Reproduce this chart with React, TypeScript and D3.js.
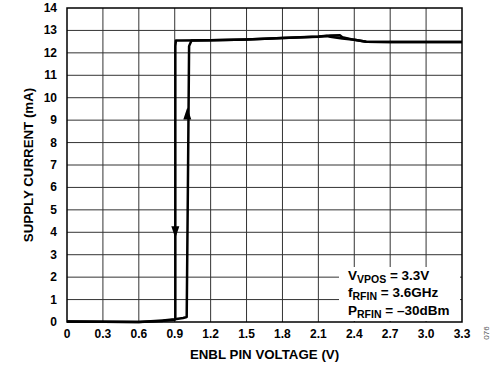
import * as d3 from "d3";

// rising sweep of ENBL (V) vs supply current (mA)
const upVolts = [0, 0.3, 0.6, 0.7, 0.8, 0.9, 0.97, 1.0, 1.01, 1.02, 1.04, 1.2, 1.5, 1.8, 2.1, 2.2, 2.28, 2.3, 2.4, 2.5, 2.7, 3.0, 3.3];
const upCurrent = [0.02, 0.01, 0.0, 0.03, 0.07, 0.12, 0.18, 0.22, 6.0, 12.3, 12.55, 12.56, 12.6, 12.66, 12.73, 12.77, 12.78, 12.7, 12.58, 12.5, 12.48, 12.48, 12.48];

// falling sweep
const downVolts = [3.3, 3.0, 2.7, 2.5, 2.4, 2.3, 2.2, 2.17, 2.1, 1.8, 1.5, 1.2, 0.95, 0.91, 0.905, 0.905, 0.9, 0.8, 0.6, 0.3, 0];
const downCurrent = [12.48, 12.48, 12.48, 12.5, 12.58, 12.64, 12.72, 12.75, 12.72, 12.66, 12.6, 12.56, 12.55, 12.55, 12.3, 0.15, 0.1, 0.05, 0.0, 0.01, 0.02];

const xTicks = [0, 0.3, 0.6, 0.9, 1.2, 1.5, 1.8, 2.1, 2.4, 2.7, 3.0, 3.3];
const yTicks = d3.range(0, 15);

const W = 494;
const H = 371;
const left = 67;
const right = 462;
const top = 8;
const bottom = 322;

const App = () => {
  const x = d3.scaleLinear().domain([0, 3.3]).range([left, right]);
  const y = d3.scaleLinear().domain([0, 14]).range([bottom, top]);

  const line = d3
    .line<[number, number]>()
    .x((d) => x(d[0]))
    .y((d) => y(d[1]));

  const upPts = upVolts.map((v, i) => [v, upCurrent[i]] as [number, number]);
  const downPts = downVolts.map((v, i) => [v, downCurrent[i]] as [number, number]);

  const font = "Arial, 'Liberation Sans', sans-serif";

  // arrow heads
  const upArrowX = x(1.005);
  const upArrowY = y(9.3);
  const downArrowX = x(0.905);
  const downArrowY = y(4.0);

  return (
    <svg
      width={W}
      height={H}
      viewBox={`0 0 ${W} ${H}`}
      style={{ position: "absolute", left: 0, top: 0, background: "#fff" }}
      fontFamily={font}
      fontWeight="bold"
    >
      <g stroke="#333" strokeWidth={1}>
        {xTicks.slice(1, -1).map((t) => (
          <line key={"gx" + t} x1={x(t)} x2={x(t)} y1={top} y2={bottom} />
        ))}
        {yTicks.slice(1, -1).map((t) => (
          <line key={"gy" + t} x1={left} x2={right} y1={y(t)} y2={y(t)} />
        ))}
      </g>
      <rect x={left} y={top} width={right - left} height={bottom - top} fill="none" stroke="#000" strokeWidth={1.5} />

      <rect x={339} y={267} width={121} height={54} fill="#fff" />
      <g fontSize={13.5} fill="#000">
        <text x={348} y={280}>
          V<tspan fontSize={10.5} dy={3}>VPOS</tspan>
          <tspan dy={-3}> = 3.3V</tspan>
        </text>
        <text x={348} y={297}>
          f<tspan fontSize={10.5} dy={3}>RFIN</tspan>
          <tspan dy={-3}> = 3.6GHz</tspan>
        </text>
        <text x={348} y={315}>
          P<tspan fontSize={10.5} dy={3}>RFIN</tspan>
          <tspan dy={-3}> = –30dBm</tspan>
        </text>
      </g>

      <path d={line(upPts) ?? ""} fill="none" stroke="#000" strokeWidth={2.5} strokeLinejoin="round" />
      <path d={line(downPts) ?? ""} fill="none" stroke="#000" strokeWidth={2.5} strokeLinejoin="round" />

      <path
        d={`M${upArrowX},${upArrowY - 6} L${upArrowX - 4},${upArrowY + 6} L${upArrowX + 4},${upArrowY + 6} Z`}
        fill="#000"
      />
      <path
        d={`M${downArrowX},${downArrowY + 6} L${downArrowX - 4},${downArrowY - 6} L${downArrowX + 4},${downArrowY - 6} Z`}
        fill="#000"
      />

      <g fontSize={12} fill="#000">
        {yTicks.map((t) => (
          <text key={"ty" + t} x={57} y={y(t) + 4} textAnchor="end">
            {t}
          </text>
        ))}
        {xTicks.map((t) => (
          <text key={"tx" + t} x={x(t)} y={338} textAnchor="middle">
            {t === 0 ? "0" : t.toFixed(1)}
          </text>
        ))}
      </g>

      <text x={(left + right) / 2} y={359} textAnchor="middle" fontSize={13.3}>
        ENBL PIN VOLTAGE (V)
      </text>
      <text
        transform={`translate(33,${(top + bottom) / 2}) rotate(-90)`}
        textAnchor="middle"
        fontSize={13.3}
      >
        SUPPLY CURRENT (mA)
      </text>
      <text
        transform="translate(489,333) rotate(-90)"
        textAnchor="middle"
        fontSize={8}
        fontWeight="normal"
        fill="#555"
      >
        076
      </text>
    </svg>
  );
};

export default App;
